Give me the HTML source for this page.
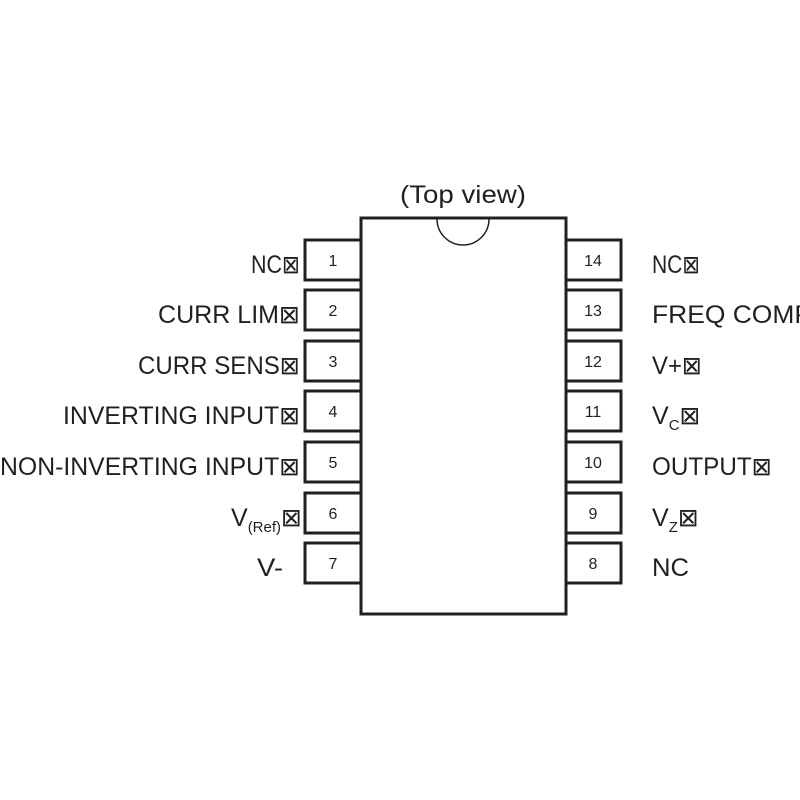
<!DOCTYPE html>
<html><head><style>html,body{margin:0;padding:0;background:#fff}svg{display:block}</style></head>
<body>
<svg width="800" height="800" viewBox="0 0 800 800" xmlns="http://www.w3.org/2000/svg" font-family="Liberation Sans, DejaVu Sans, sans-serif" fill="#231f20">
<rect x="0" y="0" width="800" height="800" fill="#fff"/>
<g fill="#fff" stroke="#231f20" stroke-width="3">
<rect x="305" y="240" width="56" height="40"/>
<rect x="305" y="290" width="56" height="40"/>
<rect x="305" y="341" width="56" height="40"/>
<rect x="305" y="391" width="56" height="40"/>
<rect x="305" y="442" width="56" height="40"/>
<rect x="305" y="493" width="56" height="40"/>
<rect x="305" y="543" width="56" height="40"/>
<rect x="566" y="240" width="55" height="40"/>
<rect x="566" y="290" width="55" height="40"/>
<rect x="566" y="341" width="55" height="40"/>
<rect x="566" y="391" width="55" height="40"/>
<rect x="566" y="442" width="55" height="40"/>
<rect x="566" y="493" width="55" height="40"/>
<rect x="566" y="543" width="55" height="40"/>
<rect x="361" y="218" width="205" height="396"/>
</g>
<path d="M437 219 A26 26 0 0 0 489 219" fill="none" stroke="#231f20" stroke-width="1.5"/>
<text x="463" y="203" font-size="25" text-anchor="middle" textLength="126" lengthAdjust="spacingAndGlyphs">(Top view)</text>
<g font-size="16" text-anchor="middle">
<text x="333" y="266">1</text><text x="333" y="316">2</text><text x="333" y="367">3</text><text x="333" y="417">4</text><text x="333" y="468">5</text><text x="333" y="519">6</text><text x="333" y="569">7</text>
<text x="593" y="266">14</text><text x="593" y="316">13</text><text x="593" y="367">12</text><text x="593" y="417">11</text><text x="593" y="468">10</text><text x="593" y="519">9</text><text x="593" y="569">8</text>
</g>
<g font-size="25" text-anchor="end">
<text x="300" y="273" textLength="49" lengthAdjust="spacingAndGlyphs">NC⊠</text>
<text x="300" y="323" textLength="142" lengthAdjust="spacingAndGlyphs">CURR LIM⊠</text>
<text x="300" y="374" textLength="162" lengthAdjust="spacingAndGlyphs">CURR SENS⊠</text>
<text x="300" y="424" textLength="237" lengthAdjust="spacingAndGlyphs">INVERTING INPUT⊠</text>
<text x="300" y="475" textLength="300" lengthAdjust="spacingAndGlyphs">NON-INVERTING INPUT⊠</text>
<text x="283" y="576" textLength="26" lengthAdjust="spacingAndGlyphs">V-</text>
</g>
<g font-size="25">
<text x="231" y="526">V<tspan font-size="15" dy="6">(Ref)</tspan><tspan dy="-6">⊠</tspan></text>
<text x="652" y="273" textLength="48" lengthAdjust="spacingAndGlyphs">NC⊠</text>
<text x="652" y="323" textLength="160" lengthAdjust="spacingAndGlyphs">FREQ COMP</text>
<text x="652" y="374" textLength="50" lengthAdjust="spacingAndGlyphs">V+⊠</text>
<text x="652" y="424">V<tspan font-size="15" dy="6">C</tspan><tspan dy="-6">⊠</tspan></text>
<text x="652" y="475" textLength="120" lengthAdjust="spacingAndGlyphs">OUTPUT⊠</text>
<text x="652" y="526">V<tspan font-size="15" dy="6">Z</tspan><tspan dy="-6">⊠</tspan></text>
<text x="652" y="576" textLength="37" lengthAdjust="spacingAndGlyphs">NC</text>
</g>
</svg>
</body></html>
